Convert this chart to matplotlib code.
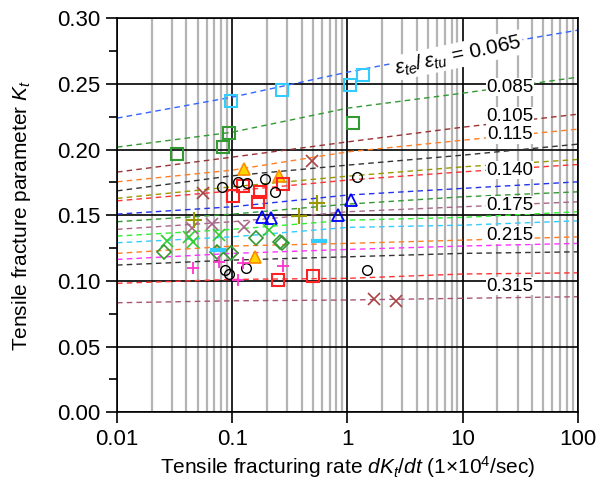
import numpy as np
import matplotlib.pyplot as plt

plt.rcParams['font.family'] = ['Liberation Sans', 'DejaVu Sans']
plt.rcParams['mathtext.fontset'] = 'custom'
plt.rcParams['mathtext.rm'] = 'Liberation Sans'
plt.rcParams['mathtext.it'] = 'Liberation Sans:italic'

# x positions where the curves were read
rate_pts = [0.01, 0.1, 1, 10, 100]

# dashed curves, top to bottom
curve_colors = ['#3366ff', '#339933', '#993333', '#ff7f27', '#333333', '#999900',
                '#ff3333', '#2233ee', '#339933', '#aa6688', '#33ee33', '#33ccff',
                '#ff7f27', '#ff33ff', '#333333', '#ff3333', '#aa5577']
curve_vals = [
    [0.224, 0.240, 0.259, 0.276, 0.291],
    [0.2019, 0.2133, 0.2316, 0.243, 0.2552],
    [0.1829, 0.1943, 0.2059, 0.2171, 0.2270],
    [0.1755, 0.1844, 0.1983, 0.2072, 0.2156],
    [0.1686, 0.1801, 0.1882, 0.1958, 0.2042],
    [0.1629, 0.1717, 0.1798, 0.1869, 0.1925],
    [0.1610, 0.1686, 0.1768, 0.1831, 0.1887],
    [0.1509, 0.1565, 0.1654, 0.1705, 0.1755],
    [0.1451, 0.1509, 0.1585, 0.1641, 0.1679],
    [0.1393, 0.1451, 0.1527, 0.1565, 0.1603],
    [0.1342, 0.1393, 0.1463, 0.1484, 0.1527],
    [0.1291, 0.1336, 0.1408, 0.1425, 0.1458],
    [0.1210, 0.1266, 0.1286, 0.1311, 0.1336],
    [0.1164, 0.1210, 0.1240, 0.1266, 0.1286],
    [0.1121, 0.1159, 0.1184, 0.1210, 0.1222],
    [0.0982, 0.1012, 0.1020, 0.1053, 0.1062],
    [0.0834, 0.0849, 0.0855, 0.0868, 0.0880],
]

# curve labels
label_texts = ['0.085', '0.105', '0.115', '0.140', '0.175', '0.215', '0.315']
label_y = [0.2476, 0.2252, 0.2113, 0.1844, 0.1578, 0.1349, 0.0961]
label_x = 25.7

# measured points
sq_cyan_x = [0.097, 0.272, 1.05, 1.37]
sq_cyan_y = [0.237, 0.2458, 0.2496, 0.257]
sq_green_x = [0.0333, 0.0836, 0.0944, 1.11]
sq_green_y = [0.1966, 0.2021, 0.2128, 0.2204]
tri_yel_x = [0.1264, 0.256, 0.157]
tri_yel_y = [0.185, 0.1798, 0.118]
sq_red_x = [0.102, 0.125, 0.174, 0.168, 0.277, 0.251, 0.505]
sq_red_y = [0.1646, 0.172, 0.168, 0.160, 0.1735, 0.1007, 0.1037]
tri_blue_x = [0.180, 0.216, 0.832, 1.066]
tri_blue_y = [0.1489, 0.1476, 0.150, 0.1616]
circ_x = [0.081, 0.113, 0.134, 0.192, 0.235, 1.20, 1.49, 0.0865, 0.093, 0.131]
circ_y = [0.1717, 0.1755, 0.1743, 0.1773, 0.168, 0.1788, 0.1083, 0.1083, 0.1055, 0.1096]
x_brown_x = [0.0553, 0.489, 1.70, 2.64]
x_brown_y = [0.167, 0.1915, 0.0862, 0.0849]
x_mauve_x = [0.0444, 0.0664, 0.1264]
x_mauve_y = [0.140, 0.1433, 0.1408]
x_green_x = [0.0274, 0.0424, 0.0453, 0.0773, 0.210]
x_green_y = [0.1306, 0.1332, 0.130, 0.135, 0.1387]
dia_x = [0.0256, 0.0732, 0.097, 0.160, 0.26, 0.27]
dia_y = [0.1218, 0.1222, 0.1215, 0.1329, 0.130, 0.1288]
plus_olive_x = [0.0466, 0.541, 0.376]
plus_olive_y = [0.1463, 0.159, 0.1494]
plus_mag_x = [0.0459, 0.0773, 0.113, 0.123, 0.274]
plus_mag_y = [0.1096, 0.1142, 0.1007, 0.1139, 0.1113]
dash_x = [0.0757, 0.57]
dash_y = [0.1235, 0.1304]

fig = plt.figure(figsize=(6.01, 4.90), dpi=100)
ax = fig.add_axes([0.1947, 0.1586, 0.767, 0.804])
ax.set_xscale('log')
ax.set_xlim(0.01, 100)
ax.set_ylim(0, 0.30)

for vals, c in zip(curve_vals, curve_colors):
    ax.plot(rate_pts, vals, color=c, lw=1.0, ls=(0, (4, 3)), zorder=2)

for t, y in zip(label_texts, label_y):
    ax.text(label_x, y, t, fontsize=13.5, ha='center', va='center', zorder=3,
            bbox=dict(facecolor='white', edgecolor='none', pad=0.5))
ax.text(9.1, 0.2719, r'$\varepsilon_{te}/\,\varepsilon_{tu}$ = 0.065', fontsize=15,
        ha='center', va='center', rotation=12, zorder=3,
        bbox=dict(facecolor='white', edgecolor='none', pad=1))

mk = dict(ls='none', zorder=4)
ax.plot(sq_cyan_x, sq_cyan_y, marker='s', ms=9, mfc='none', mec='#33ccff', mew=1.5, **mk)
ax.plot(sq_green_x, sq_green_y, marker='s', ms=9, mfc='none', mec='#339933', mew=1.5, **mk)
ax.plot(tri_yel_x, tri_yel_y, marker='^', ms=9, mfc='#ffd700', mec='#ff8c00', mew=1.2, **mk)
ax.plot(sq_red_x, sq_red_y, marker='s', ms=9, mfc='none', mec='#ff2222', mew=1.5, **mk)
ax.plot(tri_blue_x, tri_blue_y, marker='^', ms=9, mfc='none', mec='#0000ff', mew=1.3, **mk)
ax.plot(circ_x, circ_y, marker='o', ms=7, mfc='none', mec='black', mew=1.0, **mk)
ax.plot(x_brown_x, x_brown_y, marker='x', ms=8, mec='#aa4444', mew=1.2, **mk)
ax.plot(x_mauve_x, x_mauve_y, marker='x', ms=9, mec='#aa6688', mew=1.2, **mk)
ax.plot(x_green_x, x_green_y, marker='x', ms=9, mec='#33cc33', mew=1.2, **mk)
ax.plot(dia_x, dia_y, marker='D', ms=7, mfc='none', mec='#339933', mew=1.2, **mk)
ax.plot(plus_olive_x, plus_olive_y, marker='+', ms=11, mec='#999900', mew=1.5, **mk)
ax.plot(plus_mag_x, plus_mag_y, marker='+', ms=9, mec='#ff33cc', mew=1.3, **mk)
ax.plot(dash_x, dash_y, marker='_', ms=12, mec='#33ccff', mew=3, **mk)

# grid
ax.set_axisbelow(True)
ax.grid(True, which='major', axis='both', color='black', lw=1.2)
ax.grid(True, which='minor', axis='x', color='#b4b4b4', lw=1.6)
ax.set_yticks(np.arange(0, 0.301, 0.05))
ax.set_yticks(np.arange(0.025, 0.30, 0.05), minor=True)
ax.set_yticklabels([f'{v:.2f}' for v in np.arange(0, 0.301, 0.05)])
ax.set_xticks(rate_pts)
ax.set_xticklabels(['0.01', '0.1', '1', '10', '100'])
ax.tick_params(axis='both', which='major', labelsize=16, length=8, width=1.2, direction='out', pad=4)
ax.tick_params(axis='y', which='minor', length=6, width=1.2)
ax.tick_params(axis='x', which='minor', length=0)
for s in ax.spines.values():
    s.set_linewidth(1.2)

ax.set_xlabel(r'Tensile fracturing rate $dK_t/dt$ (1$\times$10$^4$/sec)', fontsize=15, labelpad=3)
ax.set_ylabel(r'Tensile fracture parameter $K_t$', fontsize=15, labelpad=17)

plt.savefig('out.png', dpi=100)
